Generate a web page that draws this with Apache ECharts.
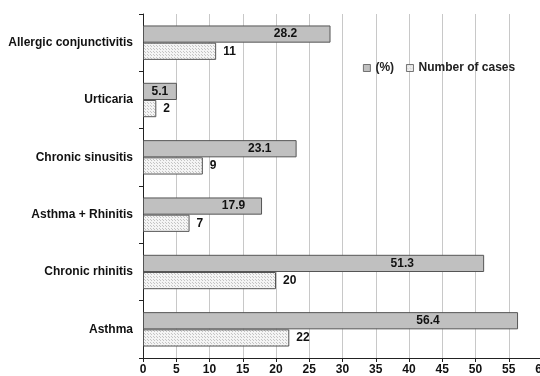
<!DOCTYPE html>
<html>
<head>
<meta charset="utf-8">
<script src="https://cdn.jsdelivr.net/npm/echarts@6/dist/echarts.min.js"></script>
<style>
  html, body { margin: 0; padding: 0; background: #fff; }
  #chart { width: 540px; height: 376px; }
</style>
</head>
<body>
<div id="chart"></div>
<script>
// Conditions, listed from the bottom of the axis upward
const categories = ['Asthma', 'Chronic rhinitis', 'Asthma + Rhinitis', 'Chronic sinusitis', 'Urticaria', 'Allergic conjunctivitis'];
const percentValues = [56.4, 51.3, 17.9, 23.1, 5.1, 28.2];
const caseCounts = [22, 20, 7, 9, 2, 11];
const xTicks = [0, 5, 10, 15, 20, 25, 30, 35, 40, 45, 50, 55, 60];

// Fine stippled fill for the case-count bars
function makeDots() {
  const c = document.createElement('canvas');
  c.width = 3; c.height = 3;
  const g = c.getContext('2d');
  g.fillStyle = '#f4f4f4';
  g.fillRect(0, 0, 3, 3);
  g.fillStyle = '#c4c4c4';
  g.fillRect(0, 0, 1, 1);
  g.fillRect(1, 1, 1, 1);
  return c;
}
const dots = makeDots();

const labelFont = { fontFamily: 'Liberation Sans, Arial, sans-serif', fontWeight: 'bold', fontSize: 12, color: '#111' };

const chart = echarts.init(document.getElementById('chart'), null, { renderer: 'canvas' });
chart.setOption({
  animation: false,
  backgroundColor: '#ffffff',
  grid: { left: 143, top: 14, width: 399, bottom: 18, containLabel: false, outerBoundsMode: 'none' },
  legend: {
    left: 358, top: 57,
    itemWidth: 7, itemHeight: 7, itemGap: 12,
    textStyle: Object.assign({}, labelFont, { fontSize: 12, color: '#222' }),
    data: [
      { name: '(%)', icon: 'rect', itemStyle: { color: '#c0c0c0', borderColor: '#555', borderWidth: 0.8 } },
      { name: 'Number of cases', icon: 'rect', itemStyle: { color: { image: dots, repeat: 'repeat' }, borderColor: '#555', borderWidth: 0.8 } }
    ]
  },
  xAxis: {
    type: 'value',
    min: xTicks[0], max: xTicks[xTicks.length - 1], interval: xTicks[1] - xTicks[0],
    axisLine: { show: true, lineStyle: { color: '#222', width: 1 } },
    axisTick: { show: true, length: 4, lineStyle: { color: '#222' } },
    axisLabel: Object.assign({ margin: 6 }, labelFont, { showMaxLabel: true }),
    splitLine: { show: true, lineStyle: { color: '#c8c8c8', width: 1 } }
  },
  yAxis: {
    type: 'category',
    data: categories,
    axisLine: { show: true, lineStyle: { color: '#222', width: 1 } },
    axisTick: { show: true, length: 4, lineStyle: { color: '#222' } },
    axisLabel: Object.assign({ margin: 10 }, labelFont),
    splitLine: { show: false }
  },
  series: [
    {
      name: '(%)', type: 'bar',
      data: percentValues.map(v => ({
        value: v,
        label: { position: v < 10 ? 'inside' : ['76%', '50%'], align: 'center', verticalAlign: 'middle' }
      })),
      barGap: '0%', barCategoryGap: '40%',
      itemStyle: { color: '#c0c0c0', borderColor: '#555', borderWidth: 1 },
      label: Object.assign({ show: true }, labelFont)
    },
    {
      name: 'Number of cases', type: 'bar',
      data: caseCounts,
      barGap: '0%', barCategoryGap: '40%',
      itemStyle: { color: { image: dots, repeat: 'repeat' }, borderColor: '#555', borderWidth: 1 },
      label: Object.assign({ show: true, position: 'right', distance: 7 }, labelFont)
    }
  ]
});
</script>
</body>
</html>
